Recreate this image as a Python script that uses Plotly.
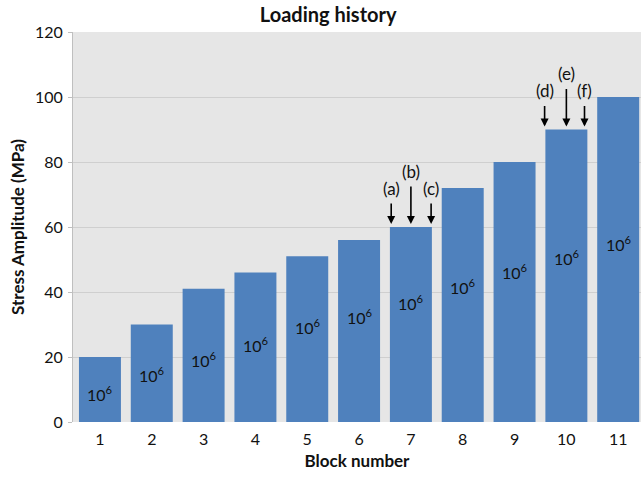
import plotly.graph_objects as go

blocks = [1, 2, 3, 4, 5, 6, 7, 8, 9, 10, 11]
stress = [20, 30, 41, 46, 51, 56, 60, 72, 80, 90, 100]
cycle_label = "10<sup>6</sup>"
label_height = [8.9, 14.5, 19.1, 23.7, 29.5, 32.6, 36.9, 41.8, 46.2, 50.5, 54.8]
x_ticks = [str(b) for b in blocks]
y_ticks = [0, 20, 40, 60, 80, 100, 120]

marker_names = ["(a)", "(b)", "(c)", "(d)", "(e)", "(f)"]
marker_x = [6.62, 7.0, 7.39, 9.58, 10.0, 10.35]
marker_bar = [7, 7, 7, 10, 10, 10]
marker_long = [False, True, False, False, True, False]

FONT = "Lato, 'Open Sans', sans-serif"
INK = "#111111"

fig = go.Figure()
fig.add_trace(go.Bar(
    x=blocks, y=stress,
    marker=dict(color="#4F81BD", line=dict(width=0)),
    width=0.81,
    hoverinfo="x+y",
))

annotations = []
for b, h in zip(blocks, label_height):
    annotations.append(dict(x=b, y=h, xref="x", yref="y", text=cycle_label,
                            showarrow=False, font=dict(size=16, color=INK, family=FONT)))

for name, mx, bar, long in zip(marker_names, marker_x, marker_bar, marker_long):
    top = stress[bar - 1]
    tail = -42 if long else -25
    annotations.append(dict(x=mx, y=top, xref="x", yref="y", text="",
                            showarrow=True, arrowhead=2, arrowsize=1, arrowwidth=1.6,
                            arrowcolor="#000000", ax=0, ay=tail, standoff=3))
    annotations.append(dict(x=mx, y=top, xref="x", yref="y", text=name,
                            showarrow=False, yshift=(-tail + 14),
                            font=dict(size=17, color=INK, family=FONT)))

fig.update_layout(
    width=641, height=478,
    margin=dict(l=73, r=0, t=32, b=56, autoexpand=False),
    paper_bgcolor="white",
    plot_bgcolor="#E6E6E6",
    title=dict(text="<b>Loading history</b>", x=0.512, xanchor="center", y=0.983, yanchor="top",
               font=dict(size=20, color=INK, family=FONT)),
    showlegend=False,
    annotations=annotations,
    xaxis=dict(
        range=[0.48, 11.44],
        tickmode="array", tickvals=blocks, ticktext=x_ticks,
        showgrid=False, zeroline=False, showline=False,
        ticks="", tickfont=dict(size=16, color=INK, family=FONT),
        ticklabelstandoff=6,
        automargin=False,
        title=dict(text="<b>Block number</b>", font=dict(size=17, color=INK, family=FONT), standoff=8),
    ),
    yaxis=dict(
        range=[0, 120],
        tickmode="array", tickvals=y_ticks,
        showgrid=True, gridcolor="#CFCFCF", gridwidth=1,
        zeroline=False, showline=True, linecolor="#BFBFBF", linewidth=1,
        ticks="outside", ticklen=4, tickcolor="#BFBFBF",
        tickfont=dict(size=16, color=INK, family=FONT),
        ticklabelstandoff=2,
        automargin=False,
        title=dict(text="<b>Stress Amplitude (MPa)</b>", font=dict(size=17, color=INK, family=FONT), standoff=6),
    ),
)

fig.write_html("out.html", config={"displayModeBar": False},
               post_script="document.body.style.margin='0';document.body.style.overflow='hidden';")
